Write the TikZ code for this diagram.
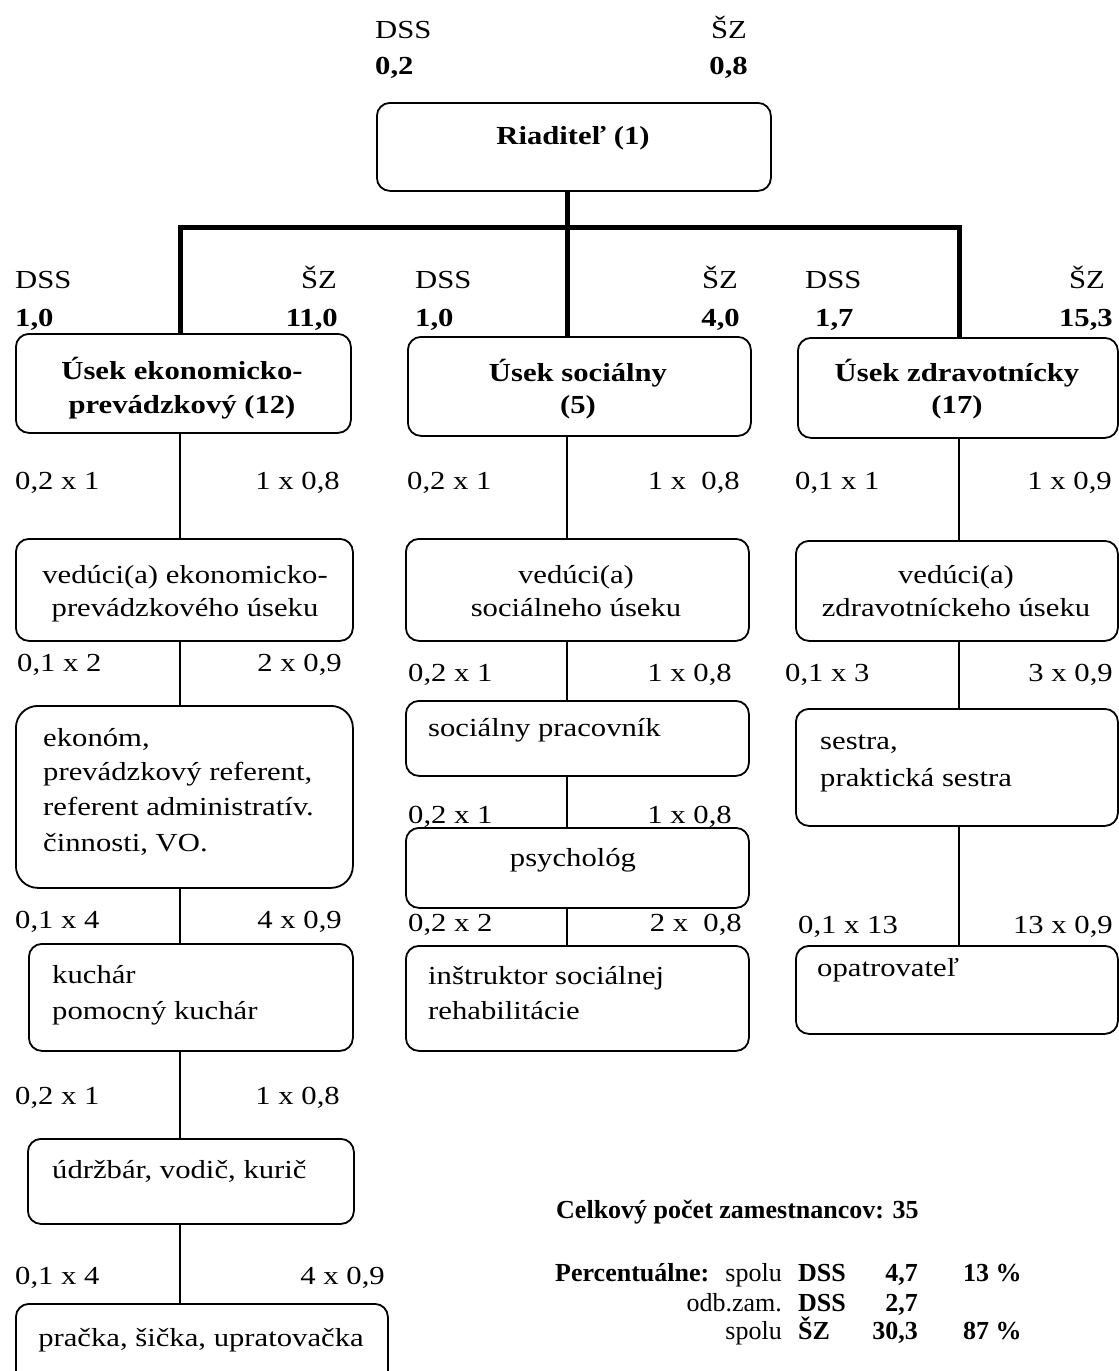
\documentclass[tikz,border=0pt]{standalone}
\usepackage{fontspec}
\setmainfont{Liberation Serif}[FakeStretch=1.18]
\newfontfamily\sumfont{Liberation Serif}
\begin{document}
\begin{tikzpicture}[x=1pt,y=-1pt,
  box/.style={draw, line width=1.8pt, rounded corners=13pt, anchor=north west, inner sep=0pt},
  lab/.style={inner sep=0pt, text height=19pt, text depth=6pt, font=\fontsize{26}{32}\selectfont},
  blab/.style={lab, font=\fontsize{26}{32}\selectfont\bfseries},
  slab/.style={lab, font=\sumfont\fontsize{26}{32}\selectfont},
  sblab/.style={lab, font=\sumfont\fontsize{26}{32}\selectfont\bfseries},
  thickconn/.style={line width=5pt, line join=miter},
  thinconn/.style={line width=1.5pt}]
\useasboundingbox (0,0) rectangle (1119,1371);
\clip (0,0) rectangle (1119,1371);

% ---------- labels ----------
\node[lab, anchor=west] (tdss) at (375,32) {DSS};
\node[blab, anchor=west] (tdssv) at (375,68) {0,2};
\node[lab, anchor=east] (tsz) at (747,32) {ŠZ};
\node[blab, anchor=east] (tszv) at (748,68) {0,8};

\node[lab, anchor=west] (adss) at (15,282) {DSS};
\node[blab, anchor=west] (adssv) at (15,320) {1,0};
\node[lab, anchor=east] (asz) at (337,282) {ŠZ};
\node[blab, anchor=east] (aszv) at (338,320) {11,0};

\node[lab, anchor=west] (bdss) at (415,282) {DSS};
\node[blab, anchor=west] (bdssv) at (415,320) {1,0};
\node[lab, anchor=east] (bsz) at (738,282) {ŠZ};
\node[blab, anchor=east] (bszv) at (740,320) {4,0};

\node[lab, anchor=west] (cdss) at (805,282) {DSS};
\node[blab, anchor=west] (cdssv) at (815,320) {1,7};
\node[lab, anchor=east] (csz) at (1105,282) {ŠZ};
\node[blab, anchor=east] (cszv) at (1113,320) {15,3};

% row labels
\node[lab, anchor=west] (l1a) at (15,483) {0,2 x 1};
\node[lab, anchor=east] (l1b) at (340,483) {1 x 0,8};
\node[lab, anchor=west] (m1a) at (407,483) {0,2 x 1};
\node[lab, anchor=east] (m1b) at (740,483) {1 x\ \ 0,8};
\node[lab, anchor=west] (r1a) at (795,483) {0,1 x 1};
\node[lab, anchor=east] (r1b) at (1112,483) {1 x 0,9};

\node[lab, anchor=west] (l2a) at (17,665) {0,1 x 2};
\node[lab, anchor=east] (l2b) at (342,665) {2 x 0,9};
\node[lab, anchor=west] (m2a) at (408,675) {0,2 x 1};
\node[lab, anchor=east] (m2b) at (732,675) {1 x 0,8};
\node[lab, anchor=west] (r2a) at (785,675) {0,1 x 3};
\node[lab, anchor=east] (r2b) at (1113,675) {3 x 0,9};

\node[lab, anchor=west] (m3a) at (408,817) {0,2 x 1};
\node[lab, anchor=east] (m3b) at (732,817) {1 x 0,8};

\node[lab, anchor=west] (l3a) at (15,922) {0,1 x 4};
\node[lab, anchor=east] (l3b) at (342,922) {4 x 0,9};
\node[lab, anchor=west] (m4a) at (408,925) {0,2 x 2};
\node[lab, anchor=east] (m4b) at (742,925) {2 x\ \ 0,8};
\node[lab, anchor=west] (r3a) at (798,927) {0,1 x 13};
\node[lab, anchor=east] (r3b) at (1113,927) {13 x 0,9};

\node[lab, anchor=west] (l4a) at (15,1098) {0,2 x 1};
\node[lab, anchor=east] (l4b) at (340,1098) {1 x 0,8};
\node[lab, anchor=west] (l5a) at (15,1278) {0,1 x 4};
\node[lab, anchor=east] (l5b) at (385,1278) {4 x 0,9};

% ---------- boxes ----------
\node[box, minimum width=394pt, minimum height=88pt] (riad) at (376,102) {};
\node[box, minimum width=335pt, minimum height=99pt] (s1) at (15,333) {};
\node[box, minimum width=343pt, minimum height=99pt] (s2) at (407,336) {};
\node[box, minimum width=320pt, minimum height=100pt] (s3) at (797,337) {};

\node[box, minimum width=337pt, minimum height=102pt] (L1) at (15,538) {};
\node[box, minimum width=337pt, minimum height=182pt, rounded corners=22pt] (L2) at (15,705) {};
\node[box, minimum width=324pt, minimum height=107pt] (L3) at (28,943) {};
\node[box, minimum width=326pt, minimum height=85pt] (L4) at (27,1138) {};
\node[box, minimum width=372pt, minimum height=110pt] (L5) at (15,1303) {};

\node[box, minimum width=343pt, minimum height=102pt] (M1) at (405,538) {};
\node[box, minimum width=343pt, minimum height=75pt] (M2) at (405,700) {};
\node[box, minimum width=343pt, minimum height=80pt] (M3) at (405,827) {};
\node[box, minimum width=343pt, minimum height=105pt] (M4) at (405,945) {};

\node[box, minimum width=322pt, minimum height=100pt] (R1) at (795,540) {};
\node[box, minimum width=322pt, minimum height=117pt] (R2) at (795,708) {};
\node[box, minimum width=322pt, minimum height=88pt] (R3) at (795,945) {};

% ---------- box texts ----------
\node[blab] (triad) at (573,138) {Riaditeľ (1)};
\node[blab] (ts1a) at (182,373) {Úsek ekonomicko-};
\node[blab] (ts1b) at (182,407) {prevádzkový (12)};
\node[blab] (ts2a) at (578,375) {Úsek sociálny};
\node[blab] (ts2b) at (578,407) {(5)};
\node[blab] (ts3a) at (957,375) {Úsek zdravotnícky};
\node[blab] (ts3b) at (957,407) {(17)};

\node[lab] (tL1a) at (185,577) {vedúci(a) ekonomicko-};
\node[lab] (tL1b) at (185,610) {prevádzkového úseku};
\node[lab, anchor=west] (tL2a) at (43,740) {ekonóm,};
\node[lab, anchor=west] (tL2b) at (43,774) {prevádzkový referent,};
\node[lab, anchor=west] (tL2c) at (43,809) {referent administratív.};
\node[lab, anchor=west] (tL2d) at (43,845) {činnosti, VO.};
\node[lab, anchor=west] (tL3a) at (52,977) {kuchár};
\node[lab, anchor=west] (tL3b) at (52,1013) {pomocný kuchár};
\node[lab, anchor=west] (tL4) at (52,1172) {údržbár, vodič, kurič};
\node[lab] (tL5) at (201,1340) {pračka, šička, upratovačka};

\node[lab] (tM1a) at (576,577) {vedúci(a)};
\node[lab] (tM1b) at (576,610) {sociálneho úseku};
\node[lab, anchor=west] (tM2) at (428,730) {sociálny pracovník};
\node[lab] (tM3) at (573,860) {psychológ};
\node[lab, anchor=west] (tM4a) at (428,978) {inštruktor sociálnej};
\node[lab, anchor=west] (tM4b) at (428,1013) {rehabilitácie};

\node[lab] (tR1a) at (956,577) {vedúci(a)};
\node[lab] (tR1b) at (956,610) {zdravotníckeho úseku};
\node[lab, anchor=west] (tR2a) at (820,743) {sestra,};
\node[lab, anchor=west] (tR2b) at (820,780) {praktická sestra};
\node[lab, anchor=west] (tR3) at (817,970) {opatrovateľ};

% ---------- summary ----------
\node[sblab, anchor=west] (cel) at (556,1212) {Celkový počet zamestnancov: 35};
\node[sblab, anchor=west] (p1a) at (555,1275) {Percentuálne:};
\node[slab, anchor=east] (p1b) at (782,1275) {spolu};
\node[sblab, anchor=west] (p1c) at (798,1275) {DSS};
\node[sblab, anchor=east] (p1d) at (918,1275) {4,7};
\node[sblab, anchor=west] (p1e) at (963,1275) {13 \%};
\node[slab, anchor=east] (p2b) at (782,1305) {odb.zam.};
\node[sblab, anchor=west] (p2c) at (798,1305) {DSS};
\node[sblab, anchor=east] (p2d) at (918,1305) {2,7};
\node[slab, anchor=east] (p3b) at (782,1333) {spolu};
\node[sblab, anchor=west] (p3c) at (798,1333) {ŠZ};
\node[sblab, anchor=east] (p3d) at (918,1333) {30,3};
\node[sblab, anchor=west] (p3e) at (963,1333) {87 \%};

% ---------- connectors ----------
\coordinate (cL) at (180,0);
\coordinate (cM) at (567,0);
\coordinate (cR) at (959,0);
\coordinate (jy) at (0,227);

\draw[thickconn] (cM |- riad.south) -- (cM |- jy);
\draw[thickconn] (cL |- s1.north) -- (cL |- jy) -- (cR |- jy) -- (cR |- s3.north);
\draw[thickconn] (cM |- s2.north) -- (cM |- jy);

\draw[thinconn] (cL |- s1.south) -- (cL |- L1.north);
\draw[thinconn] (cL |- L1.south) -- (cL |- L2.north);
\draw[thinconn] (cL |- L2.south) -- (cL |- L3.north);
\draw[thinconn] (cL |- L3.south) -- (cL |- L4.north);
\draw[thinconn] (cL |- L4.south) -- (cL |- L5.north);

\draw[thinconn] (cM |- s2.south) -- (cM |- M1.north);
\draw[thinconn] (cM |- M1.south) -- (cM |- M2.north);
\draw[thinconn] (cM |- M2.south) -- (cM |- M3.north);
\draw[thinconn] (cM |- M3.south) -- (cM |- M4.north);

\draw[thinconn] (cR |- s3.south) -- (cR |- R1.north);
\draw[thinconn] (cR |- R1.south) -- (cR |- R2.north);
\draw[thinconn] (cR |- R2.south) -- (cR |- R3.north);
\end{tikzpicture}
\end{document}
